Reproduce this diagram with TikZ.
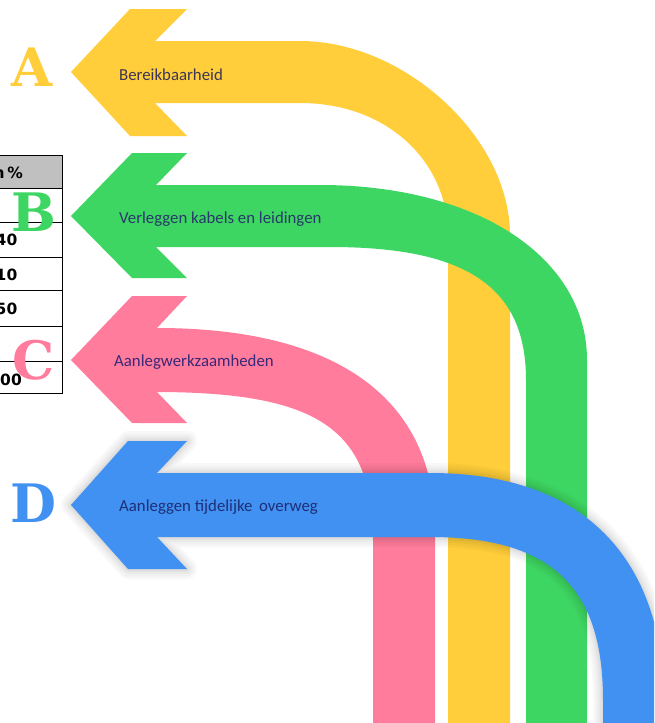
\documentclass[tikz,border=0pt]{standalone}
\usepackage{fontspec}
\newfontfamily\labelfont{Carlito}
\newfontfamily\letterfont{DejaVu Serif}
\newfontfamily\tabfont{DejaVu Sans}
\definecolor{ayellow}{HTML}{FFCE3A}
\definecolor{agreen}{HTML}{3ED662}
\definecolor{apink}{HTML}{FF7C9C}
\definecolor{ablue}{HTML}{4191F2}
\definecolor{txtA}{HTML}{3D3553}
\definecolor{txtB}{HTML}{283A6B}
\definecolor{txtC}{HTML}{3A2878}
\definecolor{txtD}{HTML}{1E2F78}
\definecolor{hdrgray}{HTML}{C0C0C0}
\tikzset{
  letter/.style={inner sep=0pt, font=\letterfont\bfseries\fontsize{53}{60}\selectfont},
  label/.style={inner sep=0pt, anchor=base west, font=\labelfont\fontsize{16.8}{20}\selectfont},
  cell/.style={inner sep=0pt, anchor=base east, font=\tabfont\bfseries\fontsize{15.5}{18}\selectfont},
  tabline/.style={draw=black, line width=1pt},
  glow/.style={draw=black, line join=round, draw opacity=0.028, fill=none}
}
\begin{document}
\begin{tikzpicture}[x=1pt,y=-1pt]
\useasboundingbox (0,0) rectangle (654,723);
\clip (0,0) rectangle (654,723);
\fill[white] (0,0) rectangle (654,723);

% table (partly outside the picture)
\fill[hdrgray] (-20,155) rectangle (62.5,188);
\foreach \yy in {155,188,222,257,290,326,361,393}
  \draw[tabline] (-20,\yy) -- (62.5,\yy);
\draw[tabline] (62.5,155) -- (62.5,393);
\node[cell] (th) at (23,178) {n\,\%};
\node[cell] (t1) at (17.5,245) {40};
\node[cell] (t2) at (17.5,280) {10};
\node[cell] (t3) at (17.5,314) {50};
\node[cell] (t4) at (22,385) {100};

% yellow arrow A
\fill[ayellow] (71,72) -- (130,9) -- (187,9) -- (155,41) -- (300,41)
  .. controls (405,41) and (510,138) .. (510,235) -- (510,740) -- (448,740) -- (448,235)
  .. controls (448,163) and (388.8,103) .. (300,103) -- (155,103) -- (187,136) -- (130,136) -- cycle;

% green arrow B
\fill[agreen] (71,216) -- (132,153) -- (187,153) -- (156,185) -- (320,185)
  .. controls (479,185) and (587,258.5) .. (587,360) -- (587,740) -- (526,740) -- (526,380)
  .. controls (526,287) and (467,247) .. (330,247) -- (156,247) -- (187,278) -- (132,278) -- cycle;

% pink arrow C
\fill[apink] (71,360) -- (132,296) -- (187,296) -- (157,328)
  .. controls (337.7,328) and (435,399) .. (435,530) -- (435,740) -- (373,740) -- (373,540)
  .. controls (373,429) and (318.5,392) .. (155,392) -- (157,392) -- (187,423) -- (132,423) -- cycle;

% blue arrow D with soft shadow
\path[save path=\bluepath] (71,505) -- (128,441) -- (187,441) -- (157,473) -- (430,473)
  .. controls (582.75,473) and (665,556) .. (665,710) -- (665,740) -- (603,740) -- (603,700)
  .. controls (603,586) and (551,537) .. (430,537) -- (157,537) -- (187,569) -- (128,569) -- cycle;
\foreach \w in {20,15,10,6,3}
  \path[glow, line width=\w pt, use path=\bluepath];
\fill[ablue, use path=\bluepath];

% labels
\node[label, text=txtA] (la) at (119,80) {Bereikbaarheid};
\node[label, text=txtB] (lb) at (119,223.3) {Verleggen kabels en leidingen};
\node[label, text=txtC] (lc) at (114,366.7) {Aanlegwerkzaamheden};
\node[label, text=txtD] (ld) at (119,511.7) {Aanleggen tijdelijke\ \,overweg};

% letters
\node[letter, text=ayellow] (A) at (32.5,67.5) {A};
\node[letter, text=agreen] (B) at (33.5,212.5) {B};
\node[letter, text=apink] (C) at (33.5,360) {C};
\node[letter, text=ablue] (D) at (33,503.5) {D};
\end{tikzpicture}
\end{document}
